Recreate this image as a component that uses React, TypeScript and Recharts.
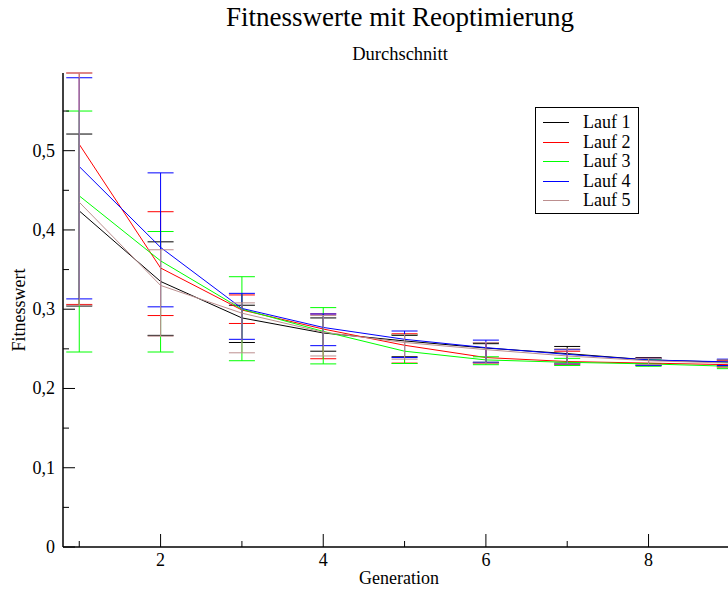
import { ErrorBar, Legend, Line, LineChart, XAxis, YAxis } from 'recharts'

const FONT = '"Liberation Serif", "Times New Roman", Times, serif'

const generations = [1, 2, 3, 4, 5, 6, 7, 8, 9]
const seriesNames = ['Lauf 1', 'Lauf 2', 'Lauf 3', 'Lauf 4', 'Lauf 5']
const seriesColors = ['#000000', '#ff0000', '#00ff00', '#0000ff', '#bc8f8f']

// Mittelwerte je Generation
const lauf1Mean = [0.424, 0.335, 0.289, 0.27, 0.26, 0.251, 0.244, 0.236, 0.233]
const lauf2Mean = [0.508, 0.352, 0.299, 0.275, 0.2545, 0.239, 0.234, 0.232, 0.23]
const lauf3Mean = [0.443, 0.361, 0.3, 0.272, 0.247, 0.236, 0.233, 0.231, 0.228]
const lauf4Mean = [0.48, 0.378, 0.301, 0.277, 0.262, 0.2515, 0.243, 0.236, 0.2335]
const lauf5Mean = [0.435, 0.33, 0.295, 0.271, 0.258, 0.249, 0.241, 0.235, 0.232]

// obere Enden der Fehlerbalken
const lauf1High = [0.521, 0.385, 0.305, 0.289, 0.267, 0.2565, 0.253, 0.239, 0.236]
const lauf2High = [0.598, 0.423, 0.318, 0.294, 0.269, 0.258, 0.247, 0.238, 0.235]
const lauf3High = [0.55, 0.398, 0.341, 0.302, 0.268, 0.24, 0.238, 0.237, 0.233]
const lauf4High = [0.592, 0.472, 0.32, 0.294, 0.2725, 0.261, 0.249, 0.238, 0.237]
const lauf5High = [0.598, 0.375, 0.308, 0.292, 0.268, 0.258, 0.25, 0.238, 0.236]

// untere Enden der Fehlerbalken
const lauf1Low = [0.304, 0.267, 0.258, 0.247, 0.24, 0.233, 0.232, 0.231, 0.228]
const lauf2Low = [0.306, 0.292, 0.282, 0.2375, 0.232, 0.232, 0.23, 0.229, 0.227]
const lauf3Low = [0.246, 0.246, 0.235, 0.231, 0.2315, 0.23, 0.229, 0.228, 0.225]
const lauf4Low = [0.313, 0.303, 0.262, 0.254, 0.239, 0.233, 0.231, 0.229, 0.229]
const lauf5Low = [0.305, 0.266, 0.245, 0.241, 0.237, 0.232, 0.231, 0.23, 0.227]

const xTicks = [1, 2, 3, 4, 5, 6, 7, 8, 9]
const yTicks = [0, 0.05, 0.1, 0.15, 0.2, 0.25, 0.3, 0.35, 0.4, 0.45, 0.5, 0.55]

const means = [lauf1Mean, lauf2Mean, lauf3Mean, lauf4Mean, lauf5Mean]
const highs = [lauf1High, lauf2High, lauf3High, lauf4High, lauf5High]
const lows = [lauf1Low, lauf2Low, lauf3Low, lauf4Low, lauf5Low]

const data = generations.map((gen, i) => {
  const row: Record<string, any> = { gen }
  means.forEach((m, s) => {
    row[`m${s}`] = m[i]
    row[`e${s}`] = [m[i] - lows[s][i], highs[s][i] - m[i]]
  })
  return row
})

const X_DOMAIN = [0.8, 9.1]
const Y_DOMAIN = [0, 0.598]

const isMajorY = (v: number) => Math.round(v * 100) % 10 === 0
const fmtY = (v: number) => (v === 0 ? '0' : v.toFixed(1).replace('.', ','))

function BottomTick(props: any) {
  const { x, y, payload } = props
  const major = payload.value % 2 === 0
  return (
    <g>
      <line x1={x} x2={x} y1={y} y2={y - (major ? 13 : 6)} stroke="#000" />
      {major && (
        <text x={x} y={y + 19} textAnchor="middle" fontSize={18} fontFamily={FONT} fill="#000">
          {payload.value}
        </text>
      )}
    </g>
  )
}

function TopTick(props: any) {
  const { x, y, payload } = props
  const major = payload.value % 2 === 0
  return <line x1={x} x2={x} y1={y} y2={y + (major ? 13 : 6)} stroke="#000" />
}

function LeftTick(props: any) {
  const { x, y, payload } = props
  const major = isMajorY(payload.value)
  return (
    <g>
      <line x1={x} x2={x + (major ? 12 : 6)} y1={y} y2={y} stroke="#000" />
      {major && (
        <text x={x - 8} y={y + 6} textAnchor="end" fontSize={18} fontFamily={FONT} fill="#000">
          {fmtY(payload.value)}
        </text>
      )}
    </g>
  )
}

function RightTick(props: any) {
  const { x, y, payload } = props
  const major = isMajorY(payload.value)
  return <line x1={x} x2={x - (major ? 12 : 6)} y1={y} y2={y} stroke="#000" />
}

function LegendBox() {
  return (
    <div
      style={{
        border: '1px solid #000',
        background: '#fff',
        width: 102,
        padding: '5px 0 2px',
        fontFamily: FONT,
        fontSize: 18,
        color: '#000',
      }}
    >
      {seriesNames.map((name, s) => (
        <div key={name} style={{ display: 'flex', alignItems: 'center', height: 19.5 }}>
          <svg width={26} height={3} style={{ marginLeft: 7 }}>
            <line x1={0} x2={26} y1={1.5} y2={1.5} stroke={seriesColors[s]} strokeWidth={1} />
          </svg>
          <span style={{ marginLeft: 14, lineHeight: '19.5px' }}>{name}</span>
        </div>
      ))}
    </div>
  )
}

export default function App() {
  return (
    <div style={{ position: 'absolute', left: 0, top: 0, width: 728, height: 591, overflow: 'hidden', background: '#fff' }}>
      <LineChart width={760} height={591} data={data} margin={{ top: 73, right: 22, bottom: 0, left: 0 }}>
        <XAxis
          dataKey="gen"
          type="number"
          domain={X_DOMAIN}
          allowDataOverflow
          ticks={xTicks}
          interval={0}
          height={44}
          tickSize={0}
          tickMargin={0}
          tick={BottomTick}
          axisLine={{ stroke: '#000', strokeWidth: 1.5 }}
          tickLine={false}
        />
        <XAxis
          xAxisId="top"
          orientation="top"
          type="number"
          domain={X_DOMAIN}
          allowDataOverflow
          ticks={xTicks}
          interval={0}
          height={0}
          tickSize={0}
          tickMargin={0}
          tick={TopTick}
          axisLine={{ stroke: '#000', strokeWidth: 1.5 }}
          tickLine={false}
        />
        <YAxis
          type="number"
          domain={Y_DOMAIN}
          allowDataOverflow
          ticks={yTicks}
          interval={0}
          width={63}
          tickSize={0}
          tickMargin={0}
          tick={LeftTick}
          axisLine={{ stroke: '#000', strokeWidth: 1.5 }}
          tickLine={false}
        />
        <YAxis
          yAxisId="right"
          orientation="right"
          type="number"
          domain={Y_DOMAIN}
          allowDataOverflow
          ticks={yTicks}
          interval={0}
          width={0}
          tickSize={0}
          tickMargin={0}
          tick={RightTick}
          axisLine={{ stroke: '#000', strokeWidth: 1.5 }}
          tickLine={false}
        />
        <Legend
          layout="horizontal"
          verticalAlign="middle"
          align="center"
          content={LegendBox}
          wrapperStyle={{ left: 535, top: 107, width: 'auto', height: 'auto' }}
        />
        {seriesNames.map((name, s) => (
          <Line
            key={name}
            name={name}
            dataKey={`m${s}`}
            type="linear"
            stroke={seriesColors[s]}
            strokeWidth={1}
            dot={false}
            activeDot={false}
            isAnimationActive={false}
          >
            <ErrorBar
              dataKey={`e${s}`}
              direction="y"
              width={13}
              stroke={seriesColors[s]}
              strokeWidth={1}
              isAnimationActive={false}
            />
          </Line>
        ))}
      </LineChart>
      <svg
        width={728}
        height={591}
        style={{ position: 'absolute', left: 0, top: 0, pointerEvents: 'none' }}
        fontFamily={FONT}
        fill="#000"
      >
        <text x={400} y={26} textAnchor="middle" fontSize={27}>
          Fitnesswerte mit Reoptimierung
        </text>
        <text x={400} y={60} textAnchor="middle" fontSize={18.5}>
          Durchschnitt
        </text>
        <text x={399} y={584} textAnchor="middle" fontSize={18}>
          Generation
        </text>
        <text transform="translate(25,310) rotate(-90)" textAnchor="middle" fontSize={18}>
          Fitnesswert
        </text>
      </svg>
    </div>
  )
}
